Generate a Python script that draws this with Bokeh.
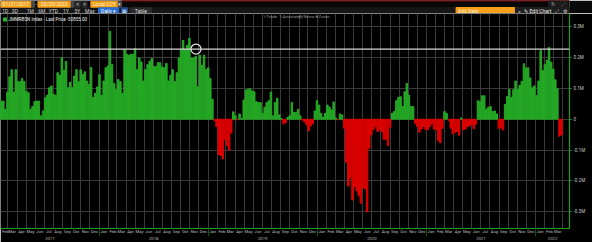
import pandas as pd
from bokeh.plotting import figure
from bokeh.layouts import column
from bokeh.models import (Range1d, FixedTicker, DatetimeAxis, LinearAxis, Grid, Label, Span,
                          ColumnDataSource, CustomJSTickFormatter, BoxAnnotation)
from bokeh.core.properties import value
from bokeh.embed import file_html
from bokeh.resources import INLINE

# ---------------- data ----------------
first_date = "2017-01-31"          # weekly observations (Tuesdays)
net_k = [  # net position, thousands
    73, 57, 59, 32, 88, 138, 161, 88, 161, 122,
    122, 132, 122, 91, 86, 32, 41, 57, 59, 59,
    11, 27, 70, 78, 102, 108, 81, 78, 151, 143,
    200, 159, 188, 102, 120, 102, 140, 161, 122, 161,
    145, 154, 124, 113, 168, 70, 84, 105, 145, 78,
    124, 167, 173, 285, 178, 116, 97, 129, 122, 84,
    226, 211, 208, 211, 211, 229, 161, 199, 186, 124,
    161, 177, 188, 197, 170, 172, 184, 183, 170, 167,
    181, 124, 143, 161, 122, 151, 199, 226, 256, 226,
    240, 263, 199, 199, 204, 105,
    208, 175, 208, 161, 167, 132, 65,
    -5, -24, -115, -118, -129, -67, -86, -101, -45,
    24, 11, -2, 17, 3, 62, 95, 97, 100, 92, 89, 57, 54, 54, 19, 39, 54, 60, 88, 11, 54, 68, 14,
    2, -15, -11, 6, 11, 54, 22, 22, 32, 11, -2, -9, -18, -38, -22, -15,
    27, 60, 46, 19, 6, 19, 46, 39, 30, 56, 4, -2, 17, 14,
    -29, -140, -217, -190, -262, -219, -233, -249, -273, -223, -226, -301, -94,
    -51, -34, -24, -40, -34, -41, -65, -65, -86, -26,
    19, 25, 60, 71, 73, 41, 89, 116, 78, 41, 41,
    -13, -24, -42, -32, -24, -34, -34, -24, -15, -32, -34, -69, -77, -30,
    25, 19,
    -4, -29, -48, -43, -40, -52, 4, -34, -32, -24, -22, -18, -31, -16,
    60, 57, 76, 76, 33, 39, 41, 25, 27, 17,
    -30, -28, -35,
    48, 74, 97, 70, 96, 124, 97, 110, 123, 180, 166, 167, 134, 102, 108, 77, 124,
    223, 158, 177, 192, 233, 185, 163, 128, 99, -55, -50.855,
]
last_price = -50855.00
ref_level = 227800
ref_label = "0.2278M"
ref_date = "2018-11-21"
y_ticks = [-300000, -200000, -100000, 0, 100000, 200000, 300000]
month_names = ["Jan", "Feb", "Mar", "Apr", "May", "Jun", "Jul", "Aug", "Sep", "Oct", "Nov", "Dec"]
years = [2017, 2018, 2019, 2020, 2021, 2022]
ticker_name = "JMMRBSN Index"
range_start_txt = "01/31/2017"
range_end_txt = "03/29/2022"

dates = pd.date_range(first_date, periods=len(net_k), freq="7D")
net = [v * 1000 for v in net_k]
colors = ["#25a925" if v >= 0 else "#dc0000" for v in net]

# ---------------- geometry ----------------
X0 = pd.Timestamp("2017-02-04 14:24")
PX_PER_DAY = 0.2987
FRAME_W = 569
X1 = X0 + pd.Timedelta(days=FRAME_W / PX_PER_DAY)
TB_H = 13
MAIN_H = 229
FRAME_H = 216
ZERO_Y = 119.2
PX_PER_UNIT = 309.4 / 1e6
EPOCH = pd.Timestamp("1970-01-01")


def ms(ts):
    return (pd.Timestamp(ts) - EPOCH).total_seconds() * 1000.0


def px_x(px):
    return ms(X0) + px / PX_PER_DAY * 86400000.0


def px_y(py):
    return (ZERO_Y - py) / PX_PER_UNIT


y_top = px_y(TB_H)
y_bot = px_y(TB_H + FRAME_H)

src = ColumnDataSource(dict(x=dates, top=net, color=colors))

GREEN = "#1f9e1f"
FONT = "Roboto"

p = figure(width=592, height=MAIN_H, x_range=Range1d(ms(X0), ms(X1)), y_range=Range1d(y_bot, y_top),
           x_axis_type=None, y_axis_type=None, output_backend="svg", toolbar_location=None,
           min_border_left=0, min_border_right=23, min_border_top=0, min_border_bottom=13,
           background_fill_color="#000000", border_fill_color="#000000", outline_line_color=None)

month_starts = pd.date_range("2017-03-01", "2022-04-01", freq="MS")
p.add_layout(Grid(dimension=0, ticker=FixedTicker(ticks=[ms(m) for m in month_starts]),
                  grid_line_color="#3b3b3b", grid_line_width=1))
p.add_layout(Grid(dimension=1, ticker=FixedTicker(ticks=y_ticks),
                  grid_line_color="#3b3b3b", grid_line_width=1))

p.vbar(x="x", top="top", bottom=0, width=5 * 86400000, color="color", source=src)

p.add_layout(Span(location=ref_level, dimension="width", line_color="#d8d8d8", line_width=1.2))
p.scatter(x=[pd.Timestamp(ref_date)], y=[ref_level], size=10, marker="circle",
          fill_color=None, line_color="#e8e8e8", line_width=1.2)

# month axis
months = pd.date_range("2017-02-01", "2022-03-01", freq="MS")
mid_ticks = [ms(max(m + pd.Timedelta(days=15), X0 + pd.Timedelta(days=16.5))) for m in months]
month_axis = DatetimeAxis(
    ticker=FixedTicker(ticks=mid_ticks, minor_ticks=[]),
    formatter=CustomJSTickFormatter(args=dict(names=month_names),
                                    code="return names[new Date(tick).getUTCMonth()];"),
    axis_line_color=GREEN, axis_line_width=1.2,
    major_tick_line_color=None, major_tick_out=0, major_tick_in=0,
    minor_tick_line_color=None, minor_tick_out=0, minor_tick_in=0,
    major_label_text_font_size="4.2px", major_label_text_color="#bdbdbd",
    major_label_text_font=FONT, major_label_standoff=0)
p.add_layout(month_axis, "below")

# year axis (labels centred on the visible part of each year, separators at Jan 1)
year_centers = []
for y in years:
    a = max(pd.Timestamp(f"{y}-01-01"), X0)
    b = min(pd.Timestamp(f"{y + 1}-01-01"), X1)
    year_centers.append(ms(a + (b - a) / 2))
year_seps = [ms(pd.Timestamp(f"{y}-01-01")) for y in years[1:]]
year_axis = DatetimeAxis(
    ticker=FixedTicker(ticks=year_centers, minor_ticks=year_seps),
    formatter=CustomJSTickFormatter(code="return String(new Date(tick).getUTCFullYear());"),
    axis_line_color=None, major_tick_line_color=None, major_tick_out=0, major_tick_in=0,
    minor_tick_line_color="#0c560c", minor_tick_line_width=1, minor_tick_out=0, minor_tick_in=8,
    major_label_text_font_size="4.2px", major_label_text_color="#bdbdbd",
    major_label_text_font=FONT, major_label_standoff=0)
p.add_layout(year_axis, "below")

# right value axis
yaxis = LinearAxis(
    ticker=FixedTicker(ticks=y_ticks, minor_ticks=[]),
    formatter=CustomJSTickFormatter(code="if (Math.abs(tick) < 1) return '0'; return (tick/1e6).toFixed(1) + 'M';"),
    axis_line_color=GREEN, axis_line_width=1.2,
    major_tick_line_color=GREEN, major_tick_out=2, major_tick_in=0,
    minor_tick_line_color=None,
    major_label_text_font_size="4.6px", major_label_text_color="#c8c8c8",
    major_label_text_font=FONT, major_label_standoff=2)
p.add_layout(yaxis, "right")

# price tags on the right
p.add_layout(Label(x=px_x(570.5), y=ref_level, text=" " + ref_label + " ", text_font=FONT,
                   text_font_size="4.5px", text_color="#000000", text_baseline="middle",
                   background_fill_color="#e4e4e4"))
p.add_layout(Label(x=px_x(570.5), y=last_price, text=" " + f"{last_price:.2f}" + " ", text_font=FONT,
                   text_font_size="4.5px", text_color="#ffffff", text_baseline="middle",
                   background_fill_color=GREEN))

# legend row inside the chart
p.add_layout(BoxAnnotation(left=px_x(2.5), right=px_x(6.5), top=px_y(17), bottom=px_y(21),
                           fill_color="#2bb52b", fill_alpha=1, line_color=None))
p.add_layout(Label(x=px_x(8), y=px_y(19), text=f"{ticker_name} - Last Price {last_price:.2f}",
                   text_font=FONT, text_font_size="4.5px", text_color="#f0f0f0", text_baseline="middle"))
for xx, t in [(262, "↗ Trade"), (278, "✎ Annotate"), (298, "▤ News"), (314, "⊕ Zoom")]:
    p.add_layout(Label(x=px_x(xx), y=px_y(16), text=t, text_font=FONT, text_font_size="4.2px",
                       text_color="#9a9a9a", text_baseline="middle"))

# ---------------- toolbar strip ----------------
tb = figure(width=592, height=TB_H, x_range=Range1d(0, 592), y_range=Range1d(TB_H, 0),
            x_axis_type=None, y_axis_type=None, output_backend="svg", toolbar_location=None,
            min_border=0, background_fill_color="#080808", border_fill_color="#080808",
            outline_line_color=None)
boxes = [
    (0, 592, 7, 13, "#161616"),
    (126, 592, 0, 0.8, "#5c0000"),
    (0.5, 32, 0.7, 6.7, "#f5a01a"),
    (32.5, 35.5, 0.7, 6.7, "#4a4a4a"),
    (39, 73, 0.7, 6.7, "#f5a01a"),
    (73.5, 76.5, 0.7, 6.7, "#4a4a4a"),
    (78, 83, 0.7, 6.7, "#2e2e2e"),
    (85, 90, 0.7, 6.7, "#2e2e2e"),
    (94, 122, 0.7, 6.7, "#f5a01a"),
    (122.5, 126, 0.7, 6.7, "#4a4a4a"),
    (102, 123, 7.3, 12.7, "#2a6fd1"),
    (126, 132, 7.3, 12.7, "#1d4e9a"),
    (135, 157, 7.3, 12.7, "#2b2b2b"),
    (474, 535, 7.0, 12.7, "#f5a01a"),
    (536, 592, 7.0, 13, "#1f1f1f"),
    (570, 590, 0.5, 6.2, "#1c1c1c"),
]
tb.quad(left=[b[0] for b in boxes], right=[b[1] for b in boxes], top=[b[2] for b in boxes],
        bottom=[b[3] for b in boxes], color=[b[4] for b in boxes])

tb_text = [
    (16, 3.8, range_start_txt, "#fff1d6", "center"),
    (37, 3.8, "-", "#cccccc", "center"),
    (56, 3.8, range_end_txt, "#fff1d6", "center"),
    (80.5, 3.8, "<", "#dddddd", "center"),
    (87.5, 3.8, ">", "#dddddd", "center"),
    (108, 3.8, "Local CCY", "#fff1d6", "center"),
    (124.2, 3.8, "▾", "#dddddd", "center"),
    (575, 3.5, "↻", "#bbbbbb", "center"),
    (585, 3.5, "⤢", "#777777", "center"),
    (5, 10, "1D", "#cfcfcf", "center"),
    (15, 10, "3D", "#cfcfcf", "center"),
    (31, 10, "1M", "#cfcfcf", "center"),
    (43, 10, "6M", "#cfcfcf", "center"),
    (55, 10, "YTD", "#cfcfcf", "center"),
    (68, 10, "1Y", "#cfcfcf", "center"),
    (80, 10, "5Y", "#cfcfcf", "center"),
    (93, 10, "Max", "#cfcfcf", "center"),
    (112.5, 10, "Daily ▾", "#ffffff", "center"),
    (129, 10, "▦", "#dfe8ff", "center"),
    (146, 10, "Table", "#dddddd", "center"),
    (476, 10, "Add Data", "#fff1d6", "left"),
    (540, 10, "«", "#dddddd", "center"),
    (545, 10, "✎ Edit Chart", "#eeeeee", "left"),
    (579, 10, "⤢", "#dddddd", "center"),
    (587, 10, "⚙", "#dddddd", "center"),
]
for xx, yy, t, c, al in tb_text:
    tb.text(x=[xx], y=[yy], text=[t], text_color=c, text_align=al, text_baseline="middle",
            text_font=value(FONT), text_font_size=value("5px"))

layout = column(tb, p, spacing=0)
open("out.html", "w").write(file_html(layout, INLINE))
